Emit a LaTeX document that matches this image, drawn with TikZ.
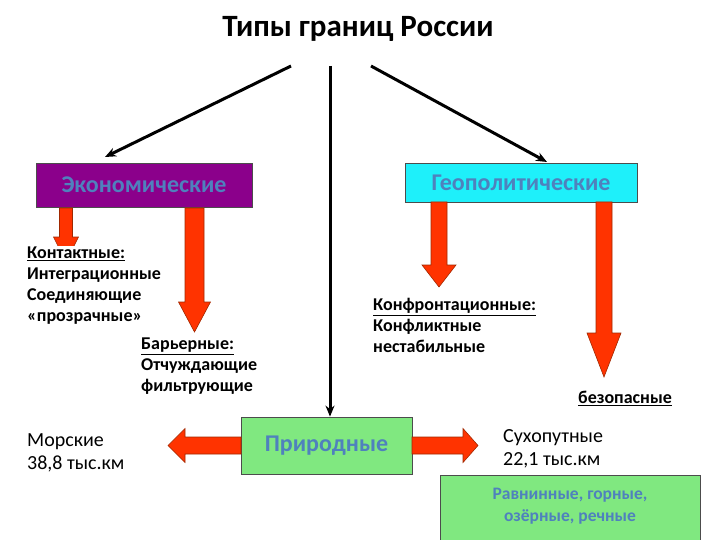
\documentclass[tikz,border=0pt]{standalone}
\usepackage{fontspec}
\setmainfont{Carlito}
\usepackage{tikz}
\usetikzlibrary{arrows.meta, positioning}
\definecolor{EcoPurple}{RGB}{139,0,139}
\definecolor{GeoCyan}{RGB}{30,240,250}
\definecolor{NatGreen}{RGB}{128,232,128}
\definecolor{BoxBlue}{RGB}{79,129,189}
\definecolor{ArrowRed}{RGB}{255,51,0}
\definecolor{ArrowEdge}{RGB}{160,40,0}
% block arrows: x, top, head start, tip, shaft half width, head half width
\newcommand{\blockdown}[6]{\filldraw[blockarrow] (#1-#5,#2) -- (#1+#5,#2) -- (#1+#5,#3) -- (#1+#6,#3) -- (#1,#4) -- (#1-#6,#3) -- (#1-#5,#3) -- cycle;}
% y, start, head start, tip, shaft half width, head half width
\newcommand{\blockside}[6]{\filldraw[blockarrow] (#2,#1-#5) -- (#3,#1-#5) -- (#3,#1-#6) -- (#4,#1) -- (#3,#1+#6) -- (#3,#1+#5) -- (#2,#1+#5) -- cycle;}

\begin{document}
\begin{tikzpicture}[x=1pt, y=-1pt,
  blockarrow/.style={fill=ArrowRed, draw=ArrowEdge, line width=0.6pt},
  blackline/.style={line width=3pt, -{Stealth[length=11pt,width=9pt]}},
  mainbox/.style={draw=black!70, line width=0.8pt, inner sep=0pt,
    font=\fontsize{24}{28}\selectfont\bfseries, text=BoxBlue},
  smalltxt/.style={inner sep=0pt, align=left, font=\fontsize{18}{21}\selectfont\bfseries},
  bigtxt/.style={inner sep=0pt, align=left, font=\fontsize{20}{23}\selectfont}]
  \useasboundingbox (0,0) rectangle (720,540);

  \node[font=\fontsize{31}{35}\selectfont\bfseries] (title) at (358,29) {Типы границ России};

  % boxes
  \node[mainbox, fill=EcoPurple, minimum width=216pt, minimum height=44pt] (econ) at (144,185) {Экономические};
  \node[mainbox, fill=GeoCyan, minimum width=232pt, minimum height=39pt] (geo) at (521,182.5) {Геополитические};
  \node[mainbox, fill=NatGreen, minimum width=171pt, minimum height=57pt] (nature) at (326.5,445.5) {Природные};
  \node[mainbox, fill=NatGreen, minimum width=260pt, minimum height=72pt, align=center,
    font=\fontsize{17.5}{22}\selectfont\bfseries, text depth=12pt] (relief) at (570,511) {Равнинные, горные,\\озёрные, речные};

  % black arrows from the title
  \coordinate (lstart) at (291,66);
  \coordinate (mstart) at (330,66);
  \coordinate (rstart) at (371,66);
  \coordinate (lend) at (105,157);
  \coordinate (rend) at (547,162);
  \draw[blackline] (lstart) -- (lend);
  \draw[blackline] (mstart) -- (mstart |- nature.north);
  \draw[blackline] (rstart) -- (rend);

  % red arrows
  \blockdown{66}{208}{237}{262}{6.5}{12.5}
  \blockdown{194.5}{208}{302}{332}{9.5}{16}
  \blockdown{439}{202}{265}{287}{8}{17}
  \blockdown{604}{202}{333}{377}{8}{17}
  \blockside{445.5}{241}{185}{168}{8.5}{17}
  \blockside{445.5}{412}{463}{478}{8.5}{17}

  % texts
  \node[smalltxt, anchor=north west, fill=white, inner sep=1pt] (contact) at (26,246)
    {\underline{Контактные:}\\Интеграционные\\Соединяющие\\«прозрачные»};
  \node[smalltxt, anchor=north west] (barrier) at (141,338)
    {\underline{Барьерные:}\\Отчуждающие\\фильтрующие};
  \node[smalltxt, anchor=north west] (conflict) at (373,298)
    {\underline{Конфронтационные:}\\Конфликтные\\нестабильные};
  \node[smalltxt, anchor=north west] (safe) at (578,391) {\underline{безопасные}};
  \node[bigtxt, anchor=north west] (sea) at (27,433) {Морские\\38,8 тыс.км};
  \node[bigtxt, anchor=north west] (land) at (503,429) {Сухопутные\\22,1 тыс.км};
\end{tikzpicture}
\end{document}
